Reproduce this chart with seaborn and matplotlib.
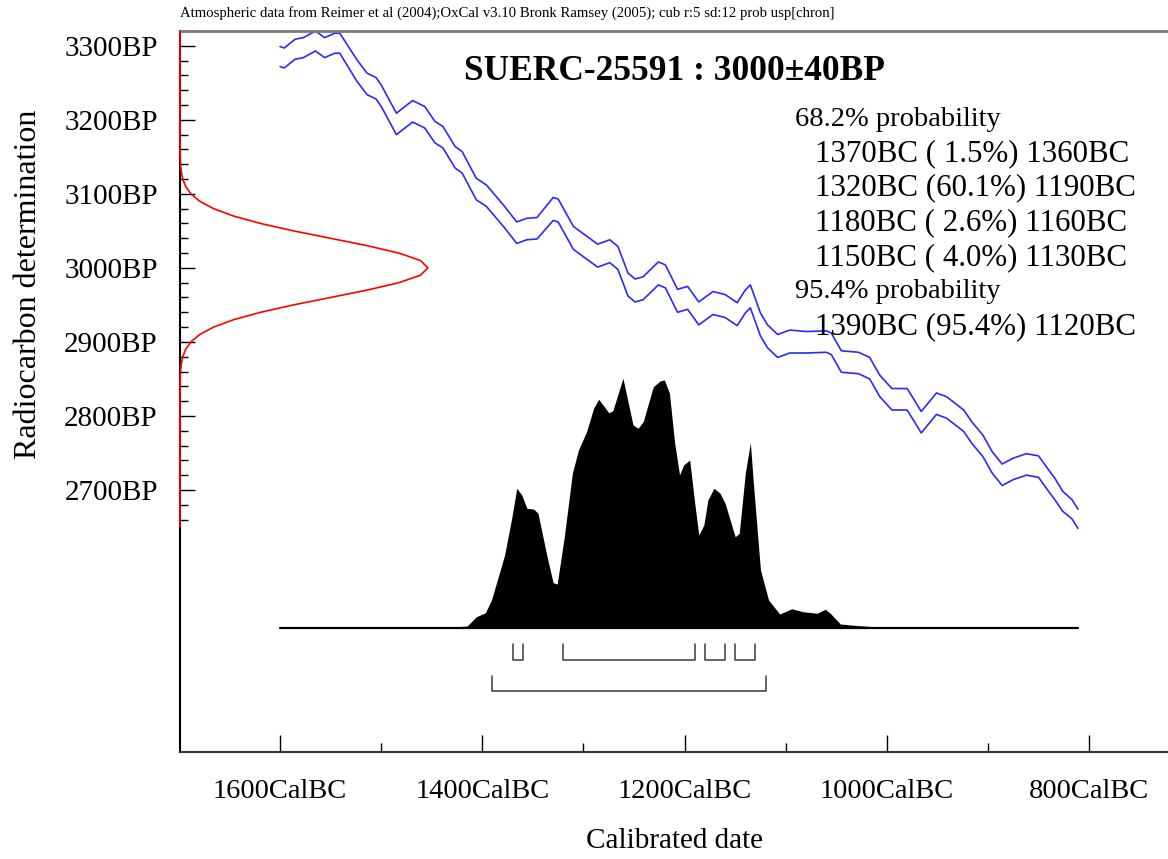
import numpy as np
import pandas as pd
import seaborn as sns
import matplotlib.pyplot as plt
from matplotlib.ticker import FixedLocator

# measurement
lab_code = "SUERC-25591"
bp_mean = 3000
bp_err = 40

# calibration curve (upper / lower 1 sigma envelope), years BC
cal_year_bc = [1600, 1596, 1585, 1577, 1565, 1556, 1546, 1541, 1524, 1514,
               1505, 1500, 1485, 1469, 1457, 1447, 1439, 1427, 1420, 1406,
               1396, 1378, 1366, 1356, 1346, 1330, 1325, 1310, 1303, 1296,
               1286, 1274, 1266, 1256, 1249, 1241, 1226, 1219, 1207, 1197,
               1186, 1172, 1160, 1148, 1140, 1135, 1125, 1118, 1108, 1096,
               1079, 1060, 1055, 1045, 1028, 1017, 1007, 995, 980, 974,
               966, 951, 941, 924, 916, 905, 896, 886, 875, 862,
               850, 840, 834, 826, 817, 811]
cal_upper = [3299, 3297, 3309, 3311, 3320, 3311, 3317, 3317, 3281, 3263,
             3257, 3247, 3209, 3226, 3218, 3198, 3191, 3164, 3157, 3121,
             3112, 3083, 3062, 3067, 3068, 3095, 3093, 3056, 3049, 3042,
             3032, 3038, 3029, 2993, 2985, 2988, 3008, 3004, 2971, 2975,
             2954, 2968, 2964, 2953, 2970, 2977, 2939, 2923, 2910, 2916,
             2914, 2915, 2912, 2888, 2886, 2879, 2855, 2837, 2837, 2824,
             2806, 2831, 2826, 2808, 2792, 2774, 2752, 2735, 2743, 2749,
             2746, 2727, 2716, 2698, 2687, 2674]
cal_lower = [3272, 3270, 3282, 3284, 3293, 3284, 3290, 3290, 3252, 3234,
             3228, 3218, 3180, 3197, 3189, 3169, 3162, 3135, 3128, 3092,
             3083, 3054, 3033, 3038, 3039, 3064, 3062, 3025, 3018, 3011,
             3001, 3007, 2998, 2962, 2954, 2957, 2977, 2973, 2940, 2944,
             2923, 2937, 2933, 2922, 2939, 2946, 2908, 2892, 2879, 2885,
             2885, 2886, 2883, 2859, 2857, 2850, 2826, 2808, 2808, 2795,
             2777, 2802, 2797, 2779, 2763, 2745, 2723, 2706, 2714, 2720,
             2717, 2698, 2687, 2671, 2661, 2648]

# calibrated probability distribution (relative)
dens_year_bc = [1600, 1442, 1415, 1406, 1397, 1391, 1378, 1371, 1366, 1361,
                1356, 1349, 1345, 1336, 1330, 1326, 1319, 1311, 1305, 1297,
                1290, 1285, 1275, 1271, 1261, 1251, 1246, 1241, 1231, 1224,
                1220, 1215, 1210, 1205, 1201, 1195, 1190, 1186, 1181, 1177,
                1171, 1165, 1160, 1150, 1146, 1140, 1135, 1132, 1125, 1117,
                1106, 1094, 1083, 1069, 1061, 1056, 1046, 1033, 1013, 1007, 811]
dens_prob = [0, 0, 0.008, 0.045, 0.061, 0.112, 0.292, 0.439, 0.559, 0.532,
             0.479, 0.475, 0.459, 0.285, 0.181, 0.176, 0.365, 0.619, 0.712, 0.785,
             0.879, 0.915, 0.861, 0.869, 0.999, 0.812, 0.799, 0.825, 0.965, 0.989,
             0.992, 0.939, 0.745, 0.612, 0.652, 0.672, 0.499, 0.372, 0.412, 0.512,
             0.559, 0.539, 0.499, 0.365, 0.379, 0.619, 0.741, 0.579, 0.232, 0.112,
             0.056, 0.077, 0.065, 0.059, 0.075, 0.059, 0.016, 0.011, 0.005, 0, 0]

# radiocarbon measurement distribution (red curve on y axis)
meas_bp = [2650, 2840, 2850, 2860, 2870, 2880, 2890, 2900, 2910, 2920, 2930,
           2940, 2950, 2960, 2970, 2980, 2990, 3000, 3010, 3020, 3030, 3040,
           3050, 3060, 3070, 3080, 3090, 3100, 3110, 3120, 3130, 3140, 3150,
           3160, 3320]
meas_prob = [0, 0.0003, 0.0009, 0.0022, 0.0051, 0.0111, 0.0228, 0.0439, 0.0796,
             0.1353, 0.2163, 0.3247, 0.4578, 0.6065, 0.7548, 0.8825, 0.9692, 1.0,
             0.9692, 0.8825, 0.7548, 0.6065, 0.4578, 0.3247, 0.2163, 0.1353,
             0.0796, 0.0439, 0.0228, 0.0111, 0.0051, 0.0022, 0.0009, 0.0003, 0]

# calibrated ranges
range68_from = [1370, 1320, 1180, 1150]
range68_to = [1360, 1190, 1160, 1130]
range68_pct = ["1.5", "60.1", "2.6", "4.0"]
range95_from = [1390]
range95_to = [1120]
range95_pct = ["95.4"]

x_major = [1600, 1400, 1200, 1000, 800]
x_minor = [1500, 1300, 1100, 900]
y_major = [2700, 2800, 2900, 3000, 3100, 3200, 3300]

sns.set_style("white")
plt.rcParams['font.family'] = ['Liberation Serif', 'DejaVu Serif']
plt.rcParams['text.color'] = 'black'
plt.rcParams['axes.labelcolor'] = 'black'
plt.rcParams['xtick.color'] = 'black'
plt.rcParams['ytick.color'] = 'black'

fig = plt.figure(figsize=(11.68, 8.59), dpi=100)
ax = fig.add_axes([180 / 1168, 1 - 752 / 859, 1 - 180 / 1168, (752 - 31) / 859])

curve = pd.DataFrame({'x': [-y for y in cal_year_bc], 'hi': cal_upper, 'lo': cal_lower})
sns.lineplot(data=curve, x='x', y='hi', ax=ax, color='#2a2aff', lw=1.2, sort=False)
sns.lineplot(data=curve, x='x', y='lo', ax=ax, color='#2a2aff', lw=1.2, sort=False)

ax.set_xlim(-1699, -722)
ax.set_ylim(2346, 3320)

ax.xaxis.set_major_locator(FixedLocator([-v for v in x_major]))
ax.xaxis.set_minor_locator(FixedLocator([-v for v in x_minor]))
ax.set_xticklabels([f"{v}CalBC" for v in x_major])
ax.yaxis.set_major_locator(FixedLocator(y_major))
ax.yaxis.set_minor_locator(FixedLocator(list(range(2660, 3321, 20))))
ax.set_yticklabels([f"{v}BP" for v in y_major])
ax.tick_params(axis='x', which='major', direction='in', length=12, width=1,
               labelsize=20.5, pad=19.5, color='black')
ax.tick_params(axis='x', which='minor', direction='in', length=6.5, width=1, color='black')
ax.tick_params(axis='y', which='major', direction='in', length=11, width=1,
               labelsize=21, pad=16, color='black')
ax.tick_params(axis='y', which='minor', direction='in', length=5.8, width=1, color='black')

ax.set_xlabel("Calibrated date", fontsize=21)
ax.xaxis.set_label_coords(0.5, -0.106)
ax.set_ylabel("Radiocarbon determination", fontsize=23)
ax.yaxis.set_label_coords(-0.139, 0.649)

for side in ['left', 'bottom']:
    ax.spines[side].set_color('black')
    ax.spines[side].set_linewidth(1.5)
ax.spines['bottom'].set_color('#333333')
ax.spines['top'].set_color('#7a7a7a')
ax.spines['top'].set_linewidth(2)
ax.spines['right'].set_visible(False)

# probability distribution + range brackets on a twin axis
ax2 = ax.twinx()
ax2.set_ylim(-0.496, 2.388)
xs = [-y for y in dens_year_bc]
ax2.fill_between(xs, 0, dens_prob, color='black', lw=0)
ax2.plot([xs[0], xs[-1]], [0, 0], color='black', lw=1.6)
for s, e in zip(range68_from, range68_to):
    ax2.plot([-s, -s, -e, -e], [-0.064, -0.128, -0.128, -0.064], color='#3a3a3a', lw=1.1)
for s, e in zip(range95_from, range95_to):
    ax2.plot([-s, -s, -e, -e], [-0.192, -0.252, -0.252, -0.192], color='#3a3a3a', lw=1.1)
ax2.set_yticks([])
ax2.set_ylabel("")
for sp in ax2.spines.values():
    sp.set_visible(False)

# measurement curve along the y axis
ax3 = ax.twiny()
ax3.set_xlim(0, 988 / 248)
ax3.plot(meas_prob, meas_bp, color='red', lw=1.2, clip_on=False)
ax3.set_xticks([])
for sp in ax3.spines.values():
    sp.set_visible(False)

# texts
fig.text(180 / 1168, 1 - 13 / 859,
         "Atmospheric data from Reimer et al (2004);OxCal v3.10 Bronk Ramsey (2005); "
         "cub r:5 sd:12 prob usp[chron]", fontsize=10.6, ha='left', va='center')
fig.text(674 / 1168, 1 - 72 / 859, f"{lab_code} : {bp_mean}\u00b1{bp_err}BP",
         fontsize=25.5, fontweight='bold', ha='center', va='center')

lines = [("68.2% probability", 0)]
for s, p, e in zip(range68_from, range68_pct, range68_to):
    lines.append((f"{s}BC ({p:>4}%) {e}BC", 20))
lines.append(("95.4% probability", 0))
for s, p, e in zip(range95_from, range95_pct, range95_to):
    lines.append((f"{s}BC ({p}%) {e}BC", 20))
for i, (t, indent) in enumerate(lines):
    fig.text((795 + indent) / 1168, 1 - (119 + i * 34.6) / 859, t,
             fontsize=20.5 if indent == 0 else 22.3, ha='left', va='center')

fig.savefig("out.png", dpi=100)
